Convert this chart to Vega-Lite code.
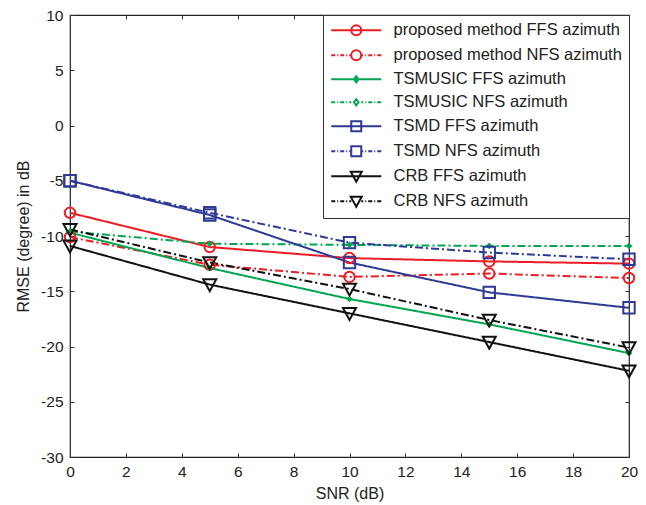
{
  "$schema": "https://vega.github.io/schema/vega-lite/v6.json",
  "width": 559,
  "height": 442,
  "autosize": "none",
  "padding": {"left": 70, "top": 15, "right": 17, "bottom": 48},
  "config": {
    "view": {"stroke": "#222222", "strokeWidth": 1.2},
    "font": "Liberation Sans",
    "axis": {"labelFont": "Liberation Sans", "titleFont": "Liberation Sans", "labelColor": "#222", "titleColor": "#222", "labelFontSize": 15.5, "titleFontSize": 16, "titleFontWeight": "normal", "grid": false, "domain": false, "tickColor": "#333", "tickSize": -4, "labelFlush": false},
    "legend": {"labelFont": "Liberation Sans", "labelFontSize": 16.5}
  },
  "data": {"values": [
    {"series": "proposed method FFS azimuth", "method": "proposed", "type": "FFS", "snr": 0, "rmse": -7.9},
    {"series": "proposed method FFS azimuth", "method": "proposed", "type": "FFS", "snr": 5, "rmse": -11.0},
    {"series": "proposed method FFS azimuth", "method": "proposed", "type": "FFS", "snr": 10, "rmse": -12.0},
    {"series": "proposed method FFS azimuth", "method": "proposed", "type": "FFS", "snr": 15, "rmse": -12.3},
    {"series": "proposed method FFS azimuth", "method": "proposed", "type": "FFS", "snr": 20, "rmse": -12.5},
    {"series": "proposed method NFS azimuth", "method": "proposed", "type": "NFS", "snr": 0, "rmse": -10.1},
    {"series": "proposed method NFS azimuth", "method": "proposed", "type": "NFS", "snr": 5, "rmse": -12.6},
    {"series": "proposed method NFS azimuth", "method": "proposed", "type": "NFS", "snr": 10, "rmse": -13.7},
    {"series": "proposed method NFS azimuth", "method": "proposed", "type": "NFS", "snr": 15, "rmse": -13.4},
    {"series": "proposed method NFS azimuth", "method": "proposed", "type": "NFS", "snr": 20, "rmse": -13.8},
    {"series": "TSMUSIC FFS azimuth", "method": "TSMUSIC", "type": "FFS", "snr": 0, "rmse": -9.7},
    {"series": "TSMUSIC FFS azimuth", "method": "TSMUSIC", "type": "FFS", "snr": 5, "rmse": -12.9},
    {"series": "TSMUSIC FFS azimuth", "method": "TSMUSIC", "type": "FFS", "snr": 10, "rmse": -15.7},
    {"series": "TSMUSIC FFS azimuth", "method": "TSMUSIC", "type": "FFS", "snr": 15, "rmse": -18.0},
    {"series": "TSMUSIC FFS azimuth", "method": "TSMUSIC", "type": "FFS", "snr": 20, "rmse": -20.6},
    {"series": "TSMUSIC NFS azimuth", "method": "TSMUSIC", "type": "NFS", "snr": 0, "rmse": -9.6},
    {"series": "TSMUSIC NFS azimuth", "method": "TSMUSIC", "type": "NFS", "snr": 5, "rmse": -10.7},
    {"series": "TSMUSIC NFS azimuth", "method": "TSMUSIC", "type": "NFS", "snr": 10, "rmse": -10.8},
    {"series": "TSMUSIC NFS azimuth", "method": "TSMUSIC", "type": "NFS", "snr": 15, "rmse": -10.9},
    {"series": "TSMUSIC NFS azimuth", "method": "TSMUSIC", "type": "NFS", "snr": 20, "rmse": -10.9},
    {"series": "TSMD FFS azimuth", "method": "TSMD", "type": "FFS", "snr": 0, "rmse": -5.0},
    {"series": "TSMD FFS azimuth", "method": "TSMD", "type": "FFS", "snr": 5, "rmse": -8.1},
    {"series": "TSMD FFS azimuth", "method": "TSMD", "type": "FFS", "snr": 10, "rmse": -12.4},
    {"series": "TSMD FFS azimuth", "method": "TSMD", "type": "FFS", "snr": 15, "rmse": -15.1},
    {"series": "TSMD FFS azimuth", "method": "TSMD", "type": "FFS", "snr": 20, "rmse": -16.5},
    {"series": "TSMD NFS azimuth", "method": "TSMD", "type": "NFS", "snr": 0, "rmse": -5.0},
    {"series": "TSMD NFS azimuth", "method": "TSMD", "type": "NFS", "snr": 5, "rmse": -7.9},
    {"series": "TSMD NFS azimuth", "method": "TSMD", "type": "NFS", "snr": 10, "rmse": -10.6},
    {"series": "TSMD NFS azimuth", "method": "TSMD", "type": "NFS", "snr": 15, "rmse": -11.5},
    {"series": "TSMD NFS azimuth", "method": "TSMD", "type": "NFS", "snr": 20, "rmse": -12.1},
    {"series": "CRB FFS azimuth", "method": "CRB", "type": "FFS", "snr": 0, "rmse": -10.9},
    {"series": "CRB FFS azimuth", "method": "CRB", "type": "FFS", "snr": 5, "rmse": -14.4},
    {"series": "CRB FFS azimuth", "method": "CRB", "type": "FFS", "snr": 10, "rmse": -17.0},
    {"series": "CRB FFS azimuth", "method": "CRB", "type": "FFS", "snr": 15, "rmse": -19.6},
    {"series": "CRB FFS azimuth", "method": "CRB", "type": "FFS", "snr": 20, "rmse": -22.2},
    {"series": "CRB NFS azimuth", "method": "CRB", "type": "NFS", "snr": 0, "rmse": -9.4},
    {"series": "CRB NFS azimuth", "method": "CRB", "type": "NFS", "snr": 5, "rmse": -12.4},
    {"series": "CRB NFS azimuth", "method": "CRB", "type": "NFS", "snr": 10, "rmse": -14.8},
    {"series": "CRB NFS azimuth", "method": "CRB", "type": "NFS", "snr": 15, "rmse": -17.6},
    {"series": "CRB NFS azimuth", "method": "CRB", "type": "NFS", "snr": 20, "rmse": -20.1}
  ]},
  "resolve": {"axis": {"x": "independent", "y": "independent"}},
  "layer": [
    {
      "mark": {"type": "line", "strokeWidth": 2, "clip": true},
      "encoding": {
        "x": {"field": "snr", "type": "quantitative", "scale": {"domain": [0, 20], "nice": false, "zero": false}, "axis": {"title": "SNR (dB)", "values": [0,2,4,6,8,10,12,14,16,18,20], "labelPadding": 11, "titlePadding": 6}},
        "y": {"field": "rmse", "type": "quantitative", "scale": {"domain": [-30, 10], "nice": false, "zero": false}, "axis": {"title": "RMSE (degree) in dB", "values": [-30,-25,-20,-15,-10,-5,0,5,10], "labelExpr": "'' + datum.value", "labelPadding": 11, "titlePadding": 9}},
        "detail": {"field": "series"},
        "color": {"field": "series", "type": "nominal",
          "scale": {"domain": ["proposed method FFS azimuth", "proposed method NFS azimuth", "TSMUSIC FFS azimuth", "TSMUSIC NFS azimuth", "TSMD FFS azimuth", "TSMD NFS azimuth", "CRB FFS azimuth", "CRB NFS azimuth"],
                    "range": ["#ED1C24", "#ED1C24", "#00A651", "#00A651", "#2E3A94", "#2E3A94", "#111111", "#111111"]},
          "legend": {
            "title": null, "orient": "top-right", "offset": 0,
            "fillColor": "white", "strokeColor": "#333", "padding": 7,
            "labelFont": "Liberation Sans", "labelFontSize": 16.5, "labelColor": "#222",
            "symbolSize": 100, "symbolStrokeWidth": 2, "symbolOffset": 18, "labelOffset": 29, "rowPadding": 6,
            "labelLimit": 320,
            "encode": {"symbols": {"update": {
              "strokeDash": {"value": []},
              "fill": {"value": "transparent"},
              "fillOpacity": {"value": 0},
              "opacity": {"value": 1},
              "shape": {"signal": "(indexof(datum.value, 'NFS') >= 0 ? 'M-5,0H-4.2M-3.8,0H-3.6M-3.2,0H-2.4M-2,0H-1.8M-1.4,0H-1M1,0H1.4M1.8,0H2M2.4,0H3.2M3.6,0H3.8M4.2,0H5' : 'M-5,0H5') + (indexof(datum.value, 'proposed') >= 0 ? 'M-1,0A1,1 0 1,1 1,0A1,1 0 1,1 -1,0Z' : indexof(datum.value, 'TSMUSIC') >= 0 ? 'M0,-0.6L0.45,0L0,0.6L-0.45,0Z' : indexof(datum.value, 'TSMD') >= 0 ? 'M-1,-1H1V1H-1Z' : 'M-1.1,-0.9H1.1L0,1.1Z')"}
            }}}
          }
        },
        "strokeDash": {"field": "type", "type": "nominal", "scale": {"domain": ["FFS", "NFS"], "range": [[1, 0], [8, 3, 2, 3]]}, "legend": null}
      }
    },
    {
      "transform": [{"filter": "datum.method === 'proposed'"}],
      "mark": {"type": "point", "shape": "circle", "filled": false, "size": 110, "strokeWidth": 2, "opacity": 1},
      "encoding": {
        "x": {"field": "snr", "type": "quantitative", "axis": {"orient": "top", "labels": false, "title": null, "values": [0,2,4,6,8,10,12,14,16,18,20]}},
        "y": {"field": "rmse", "type": "quantitative", "axis": {"orient": "right", "labels": false, "title": null, "values": [-30,-25,-20,-15,-10,-5,0,5,10]}},
        "color": {"field": "series", "type": "nominal", "legend": null}
      }
    },
    {
      "transform": [{"filter": "datum.method === 'TSMUSIC'"}],
      "mark": {"type": "point", "shape": "diamond", "filled": true, "size": 45, "opacity": 1},
      "encoding": {
        "x": {"field": "snr", "type": "quantitative", "axis": null},
        "y": {"field": "rmse", "type": "quantitative", "axis": null},
        "color": {"field": "series", "type": "nominal", "legend": null}
      }
    },
    {
      "transform": [{"filter": "datum.method === 'TSMD'"}],
      "mark": {"type": "point", "shape": "square", "filled": false, "size": 130, "strokeWidth": 2, "opacity": 1},
      "encoding": {
        "x": {"field": "snr", "type": "quantitative", "axis": null},
        "y": {"field": "rmse", "type": "quantitative", "axis": null},
        "color": {"field": "series", "type": "nominal", "legend": null}
      }
    },
    {
      "transform": [{"filter": "datum.method === 'CRB'"}],
      "mark": {"type": "point", "shape": "M-1.1,-0.9H1.1L0,1.1Z", "filled": false, "size": 140, "strokeWidth": 2, "opacity": 1},
      "encoding": {
        "x": {"field": "snr", "type": "quantitative", "axis": null},
        "y": {"field": "rmse", "type": "quantitative", "axis": null},
        "color": {"field": "series", "type": "nominal", "legend": null}
      }
    }
  ]
}
